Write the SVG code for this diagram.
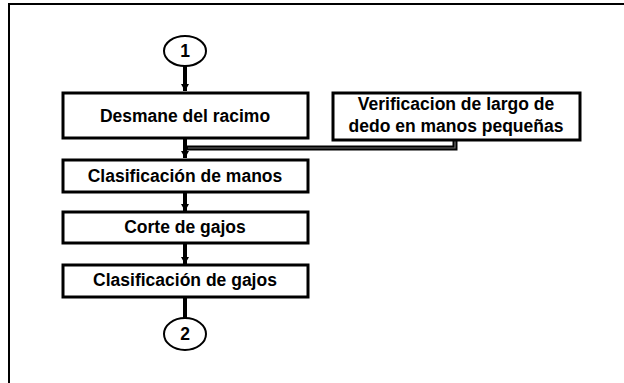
<svg xmlns="http://www.w3.org/2000/svg" width="624" height="383" viewBox="0 0 624 383">
  <style>
    .frame { fill: none; stroke: #000; stroke-width: 2; }
    .box { fill: #fff; stroke: #000; stroke-width: 3; }
    .term { fill: #fff; stroke: #000; stroke-width: 2; }
    .flow { fill: none; stroke: #000; stroke-width: 4; }
    .feed { fill: none; stroke: #000; stroke-width: 5; }
    .feed-core { fill: none; stroke: #6e6e6e; stroke-width: 1.2; }
    text { font-family: "Liberation Sans", Arial, sans-serif; font-weight: bold; font-size: 17.5px; fill: #000; text-anchor: middle; }
  </style>
  <defs>
    <marker id="arrow" markerUnits="userSpaceOnUse" markerWidth="9" markerHeight="8" refX="7" refY="4" orient="auto">
      <path d="M0,0 L7,4 L0,8 z" fill="#000"/>
    </marker>
  </defs>

  <rect width="624" height="383" fill="#fff"/>
  <!-- outer frame: top and left edges -->
  <path class="frame" d="M9,383 V4 H624"/>

  <g id="connectors">
    <line class="flow" x1="185" y1="66" x2="185" y2="91" marker-end="url(#arrow)"/>
    <line class="flow" x1="185" y1="139" x2="185" y2="158" marker-end="url(#arrow)"/>
    <line class="flow" x1="185" y1="192" x2="185" y2="211" marker-end="url(#arrow)"/>
    <line class="flow" x1="185" y1="244" x2="185" y2="264" marker-end="url(#arrow)"/>
    <line class="flow" x1="185" y1="297" x2="185" y2="318"/>
    <!-- side feed from the verification step -->
    <path class="feed" d="M455,141 V148 H187"/>
    <path class="feed-core" d="M455,141 V148 H188"/>
  </g>

  <g id="start">
    <ellipse class="term" cx="185" cy="51" rx="21" ry="15"/>
    <text x="185" y="57">1</text>
  </g>

  <g id="desmane">
    <rect class="box" x="63" y="93" width="245" height="45"/>
    <text x="185" y="122">Desmane del racimo</text>
  </g>

  <g id="verificacion">
    <rect class="box" x="333" y="93" width="247" height="47"/>
    <text x="456" y="110">Verificacion de largo de</text>
    <text x="456" y="132">dedo en manos pequeñas</text>
  </g>

  <g id="clasif-manos">
    <rect class="box" x="63" y="160" width="245" height="32"/>
    <text x="185" y="182">Clasificación de manos</text>
  </g>

  <g id="corte">
    <rect class="box" x="63" y="212" width="245" height="31"/>
    <text x="185" y="233">Corte de gajos</text>
  </g>

  <g id="clasif-gajos">
    <rect class="box" x="63" y="265" width="245" height="32"/>
    <text x="185" y="286">Clasificación de gajos</text>
  </g>

  <g id="end">
    <ellipse class="term" cx="185" cy="334" rx="21" ry="16"/>
    <text x="185" y="340">2</text>
  </g>
</svg>
